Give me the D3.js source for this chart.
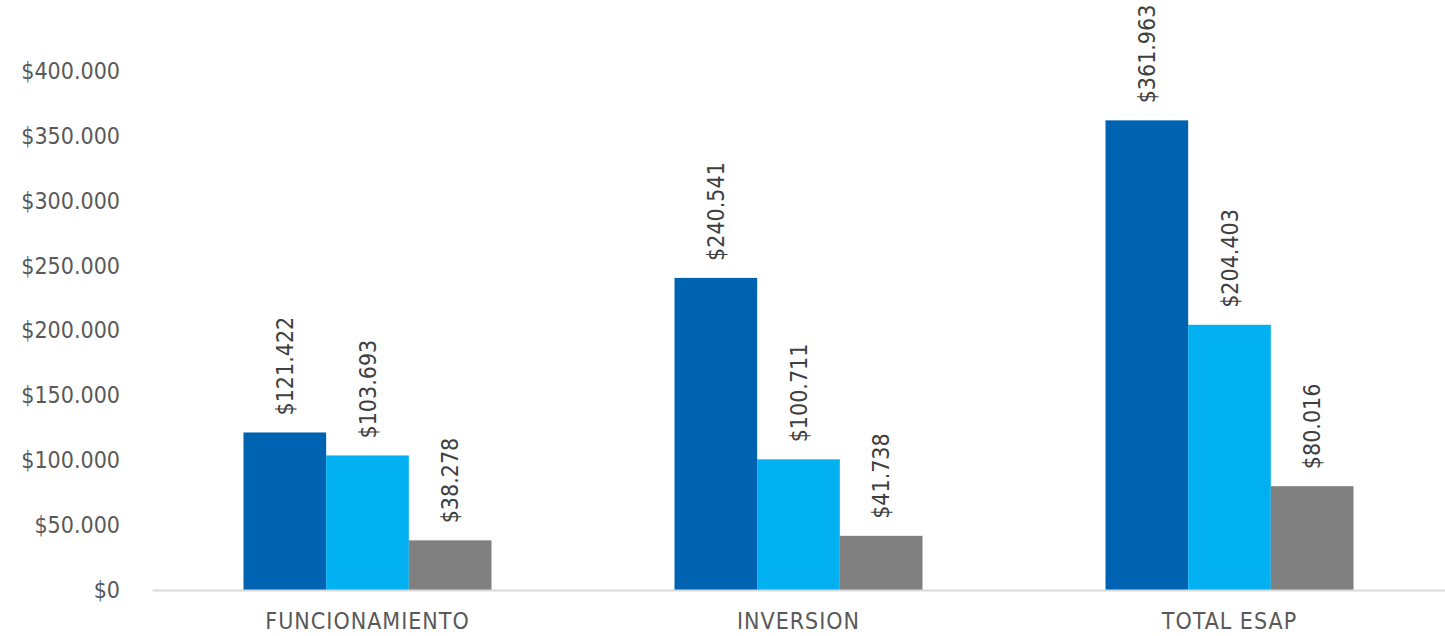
<!DOCTYPE html>
<html><head><meta charset="utf-8">
<script src="https://cdn.jsdelivr.net/npm/d3@7"></script>
<style>body{margin:0;background:#fff;}svg{display:block;font-family:"DejaVu Sans Condensed","DejaVu Sans",sans-serif;}</style>
</head><body><svg id="c" width="1445" height="636"></svg>
<script>
const categories = ["FUNCIONAMIENTO", "INVERSION", "TOTAL ESAP"];
const seriesNames = ["Serie 1", "Serie 2", "Serie 3"];
const serie1 = [121422, 240541, 361963];
const serie2 = [103693, 100711, 204403];
const serie3 = [38278, 41738, 80016];
const yTicks = [0, 50000, 100000, 150000, 200000, 250000, 300000, 350000, 400000];
const colors = ["#0063B1", "#00B0F0", "#808080"];

const svg = d3.select("#c");
const W = 1445, H = 636;
const m = {left: 152, right: 0, top: 71, bottom: 46};
const FONT = "DejaVu Sans Condensed";
const loc = d3.formatLocale({decimal: ",", thousands: ".", grouping: [3], currency: ["$", ""]});
const fmt = loc.format("$,.0f");

const x = d3.scaleBand().domain(categories).range([m.left, W - m.right]).paddingInner(0).paddingOuter(0);
const x1 = d3.scaleBand().domain(seriesNames).range([91.5, x.bandwidth() - 91.5]).padding(0);
const y = d3.scaleLinear().domain([0, 400000]).range([H - m.bottom, m.top]);

const series = [serie1, serie2, serie3];
const rows = categories.map((c, i) => ({cat: c, vals: seriesNames.map((s, j) => ({s, j, v: series[j][i]}))}));

// y axis labels
const yAxis = d3.axisLeft(y).tickValues(yTicks).tickFormat(fmt).tickSize(0).tickPadding(0);
const ya = svg.append("g").attr("transform", `translate(120,0)`).call(yAxis);
ya.select(".domain").remove();
ya.selectAll("text").attr("fill", "#595959").attr("font-size", 23).attr("font-family", FONT);

// bars
const g = svg.append("g").selectAll("g").data(rows).join("g").attr("transform", d => `translate(${x(d.cat)},0)`);
g.selectAll("rect").data(d => d.vals).join("rect")
  .attr("x", d => x1(d.s)).attr("width", x1.bandwidth())
  .attr("y", d => y(d.v)).attr("height", d => y(0) - y(d.v))
  .attr("fill", d => colors[d.j]);
g.selectAll("text").data(d => d.vals).join("text")
  .attr("transform", d => `translate(${x1(d.s) + x1.bandwidth() / 2 + 8},${y(d.v) - 17}) rotate(-90)`)
  .attr("text-anchor", "start").attr("font-size", 23).attr("fill", "#404040").attr("font-family", FONT)
  .text(d => fmt(d.v));

// x axis
const xAxis = d3.axisBottom(x).tickSize(0).tickPadding(23);
const xa = svg.append("g").attr("transform", `translate(0,${y(0)})`).call(xAxis);
xa.select(".domain").attr("stroke", "#d9d9d9").attr("stroke-width", 2);
xa.selectAll("text").attr("fill", "#595959").attr("font-size", 23).attr("letter-spacing", 1).attr("font-family", FONT);
</script></body></html>
